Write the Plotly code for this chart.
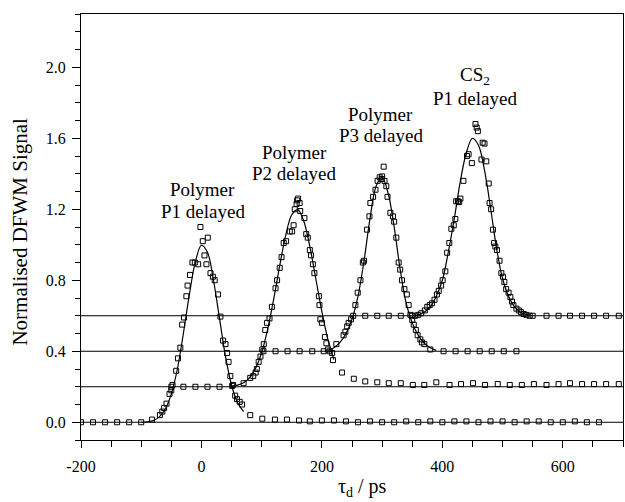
import plotly.graph_objects as go

# ---- data (tau_d in ps, normalised signal) ----
baselines = [0.0, 0.2, 0.4, 0.6]

s1_pts = [(-200, 0), (-180, 0), (-160, 0), (-140, 0), (-120, 0), (-100, 0), (-82, 0.015), (-69, 0.04),
          (-65, 0.06), (-62, 0.08), (-58, 0.105), (-53, 0.16), (-50, 0.18), (-48, 0.21), (-42, 0.29),
          (-39, 0.36), (-35, 0.42), (-32, 0.55), (-29, 0.59), (-25, 0.71), (-23, 0.77), (-19, 0.83),
          (-15, 0.90), (-11, 0.90), (-5.5, 0.89), (-1.7, 1.10), (2.2, 1.02), (5, 0.94), (8.3, 0.89),
          (10.5, 1.04), (15, 0.84), (19, 0.82), (22, 0.80), (27.6, 0.72), (31.5, 0.595), (36, 0.46),
          (40, 0.44), (42.6, 0.39), (45, 0.34), (48, 0.26), (52.6, 0.21), (56, 0.15), (59, 0.13),
          (63.5, 0.115), (67.5, 0.10), (81, 0.04), (101, 0.02), (122, 0.015), (142, 0.015), (162, 0.01),
          (180, 0.005), (200, 0.01), (220, 0.01), (240, 0.005), (260, 0), (280, 0.005), (300, 0), (320, 0),
          (340, 0.005), (360, 0), (380, 0.005), (400, 0), (420, 0.005), (440, 0.005), (460, 0), (480, 0.005),
          (500, 0.005), (520, 0), (540, 0.005), (560, 0.005), (580, 0), (600, 0), (620, 0.005), (640, 0),
          (660, 0)]

s2_pts = [(-50, 0.2), (-30, 0.2), (-10, 0.2), (10, 0.2), (30, 0.2), (51, 0.205), (70, 0.22), (81, 0.25),
          (86, 0.26), (90, 0.28), (92, 0.30), (95, 0.34), (98, 0.37), (101, 0.41), (103.5, 0.44), (106, 0.52),
          (109, 0.56), (113, 0.585), (117, 0.65), (123, 0.755), (125.6, 0.80), (130, 0.87), (133, 0.93),
          (136.6, 1.01), (140.6, 1.02), (146.6, 1.075), (150.5, 1.075), (153, 1.11), (155, 1.20), (158, 1.23),
          (159, 1.25), (160.5, 1.26), (163, 1.235), (164, 1.19), (171, 1.15), (174, 1.06), (176.5, 1.04),
          (180, 0.97), (182, 0.94), (185, 0.89), (187.5, 0.84), (195, 0.71), (196, 0.66), (197.5, 0.58),
          (200, 0.56), (205, 0.48), (207.5, 0.445), (210, 0.41), (217, 0.39), (218.5, 0.35), (233.5, 0.28),
          (253, 0.245), (272, 0.23), (292, 0.225), (311, 0.22), (331, 0.22), (351, 0.21), (370, 0.21),
          (390, 0.225), (412, 0.21), (431, 0.215), (451, 0.22), (471, 0.21), (492, 0.215), (512, 0.21),
          (532, 0.21), (552, 0.215), (573, 0.21), (593, 0.215), (612, 0.22), (632, 0.215), (652, 0.215),
          (672, 0.215), (693, 0.215)]

s3_pts = [(103, 0.40), (123, 0.40), (143, 0.40), (163, 0.40), (184, 0.40), (203, 0.40), (213, 0.40),
          (224, 0.44), (236, 0.49), (239, 0.51), (242, 0.54), (244.5, 0.56), (248.5, 0.58), (252, 0.60),
          (255.6, 0.66), (259.5, 0.73), (264, 0.80), (268, 0.90), (270, 0.91), (275, 1.085), (279, 1.16),
          (280.5, 1.235), (285, 1.27), (289, 1.31), (292.6, 1.36), (296, 1.38), (299, 1.37), (300, 1.385),
          (302.6, 1.44), (304, 1.36), (307, 1.33), (309, 1.27), (313.7, 1.18), (318, 1.16), (320, 1.13),
          (323.6, 1.04), (327.5, 0.90), (330, 0.86), (333, 0.80), (337, 0.75), (341, 0.72), (344, 0.66),
          (347, 0.605), (350, 0.576), (352.5, 0.55), (356, 0.52), (359, 0.49), (363.5, 0.467), (366, 0.45),
          (370, 0.44), (380, 0.41), (402, 0.40), (422, 0.40), (442, 0.40), (462, 0.40), (482, 0.40),
          (502, 0.40), (523, 0.40)]

s4_pts = [(272, 0.60), (292, 0.60), (311, 0.60), (331, 0.60), (350, 0.60), (355, 0.60), (360, 0.605),
          (365, 0.614), (371, 0.63), (375, 0.65), (379, 0.66), (383, 0.67), (387, 0.69), (391, 0.72),
          (394, 0.74), (398, 0.77), (400.5, 0.80), (405, 0.85), (408, 0.955), (411.6, 1.01), (415, 1.09),
          (419, 1.11), (421.6, 1.145), (423, 1.245), (426, 1.245), (428, 1.24), (430, 1.26), (435, 1.36),
          (441, 1.50), (443.6, 1.51), (449, 1.46), (455, 1.68), (457, 1.66), (459, 1.64), (465, 1.48),
          (467, 1.575), (470, 1.57), (473, 1.47), (477, 1.345), (478.5, 1.235), (481, 1.20), (484, 1.085),
          (486, 1.01), (488, 0.99), (490.7, 0.97), (495, 0.91), (498, 0.84), (500.7, 0.82), (503, 0.79),
          (506, 0.75), (510, 0.73), (513, 0.705), (515.7, 0.68), (518, 0.66), (523, 0.64), (527, 0.63),
          (530.6, 0.62), (535, 0.61), (539.6, 0.605), (545, 0.60), (550, 0.60), (573, 0.60), (593, 0.60),
          (612, 0.60), (632, 0.60), (652, 0.60), (672, 0.60), (693, 0.60)]

# fitted curves
c1_t = [-100, -90, -80, -70, -60, -50, -40, -30, -20, -10, 0, 10, 20, 30, 40, 50, 60, 70]
c1_v = [0.0, 0.003, 0.01, 0.03, 0.075, 0.16, 0.30, 0.50, 0.72, 0.905, 0.997, 0.957, 0.80, 0.585, 0.37,
        0.21, 0.11, 0.06]
c2_t = [50, 60, 70, 80, 90, 100, 110, 120, 130, 140, 150, 160, 170, 180, 190, 200, 210, 220]
c2_v = [0.203, 0.209, 0.223, 0.251, 0.305, 0.393, 0.525, 0.694, 0.882, 1.054, 1.169, 1.198, 1.132, 0.99,
        0.807, 0.623, 0.467, 0.353]
c3_t = [210, 220, 230, 240, 250, 260, 270, 280, 290, 300, 310, 320, 330, 340, 350, 360, 370, 380, 390]
c3_v = [0.405, 0.42, 0.45, 0.50, 0.58, 0.71, 0.91, 1.15, 1.33, 1.38, 1.29, 1.10, 0.86, 0.67, 0.56, 0.49,
        0.445, 0.42, 0.405]
c4_t = [350, 360, 370, 380, 390, 400, 410, 420, 430, 440, 450, 460, 470, 480, 490, 500, 510, 520, 530,
        540, 550]
c4_v = [0.60, 0.605, 0.62, 0.65, 0.71, 0.80, 0.96, 1.15, 1.36, 1.52, 1.60, 1.56, 1.42, 1.21, 0.98, 0.81,
        0.71, 0.65, 0.62, 0.607, 0.60]

label_text = ["Polymer", "P1 delayed", "Polymer", "P2 delayed", "Polymer", "P3 delayed",
              "CS<sub>2</sub>", "P1 delayed"]
label_x = [2, 2, 154, 154, 298, 298, 455, 455]
label_y = [1.31, 1.19, 1.52, 1.40, 1.735, 1.615, 1.95, 1.825]

x_ticks = [-200, 0, 200, 400, 600]
x_ticktext = ["-200", "0", "200", "400", "600"]
y_ticks = [0.0, 0.4, 0.8, 1.2, 1.6, 2.0]

FONT = "Liberation Serif, Times New Roman, serif"

fig = go.Figure()

for b in baselines:
    fig.add_hline(y=b, line=dict(color="black", width=1))

for ct, cv in [(c1_t, c1_v), (c2_t, c2_v), (c3_t, c3_v), (c4_t, c4_v)]:
    fig.add_trace(go.Scatter(x=ct, y=cv, mode="lines", line=dict(color="black", width=1.2, shape="spline"),
                             hoverinfo="skip", showlegend=False))

for pts in [s1_pts, s2_pts, s3_pts, s4_pts]:
    fig.add_trace(go.Scatter(x=[p[0] for p in pts], y=[p[1] for p in pts], mode="markers",
                             marker=dict(symbol="square-open", size=5, color="black", line=dict(width=1)),
                             showlegend=False))

for t, x, y in zip(label_text, label_x, label_y):
    fig.add_annotation(x=x, y=y, text=t, showarrow=False, xanchor="center", yanchor="middle",
                       font=dict(family=FONT, size=19, color="black"))

fig.add_annotation(xref="paper", yref="paper", x=0.52, y=-0.112, text="τ<sub>d</sub> / ps",
                   showarrow=False, xanchor="center", yanchor="middle",
                   font=dict(family=FONT, size=20, color="black"))
fig.add_annotation(xref="paper", yref="paper", x=-0.112, y=0.49, text="Normalised DFWM Signal",
                   showarrow=False, textangle=-90, xanchor="center", yanchor="middle",
                   font=dict(family=FONT, size=21, color="black"))

axis_common = dict(showgrid=False, zeroline=False, showline=True, linecolor="black", linewidth=1.3,
                   mirror=True, ticks="outside", tickcolor="black", tickwidth=1,
                   tickfont=dict(family=FONT, size=16, color="black"))

fig.update_xaxes(range=[-200, 700], tickvals=x_ticks, ticktext=x_ticktext, ticklen=7,
                 minor=dict(dtick=50, tick0=0, ticklen=6, ticks="outside", tickcolor="black"),
                 ticklabelstandoff=5, **axis_common)
fig.update_yaxes(range=[-0.1, 2.3], tickvals=y_ticks, tickformat=".1f", ticklen=8,
                 minor=dict(dtick=0.1, tick0=0, ticklen=5, ticks="outside", tickcolor="black"),
                 ticklabelstandoff=3, **axis_common)

fig.update_layout(width=625, height=502, margin=dict(l=81, r=2, t=14, b=62),
                  plot_bgcolor="white", paper_bgcolor="white",
                  font=dict(family=FONT, color="black"))

fig.write_html("out.html")
